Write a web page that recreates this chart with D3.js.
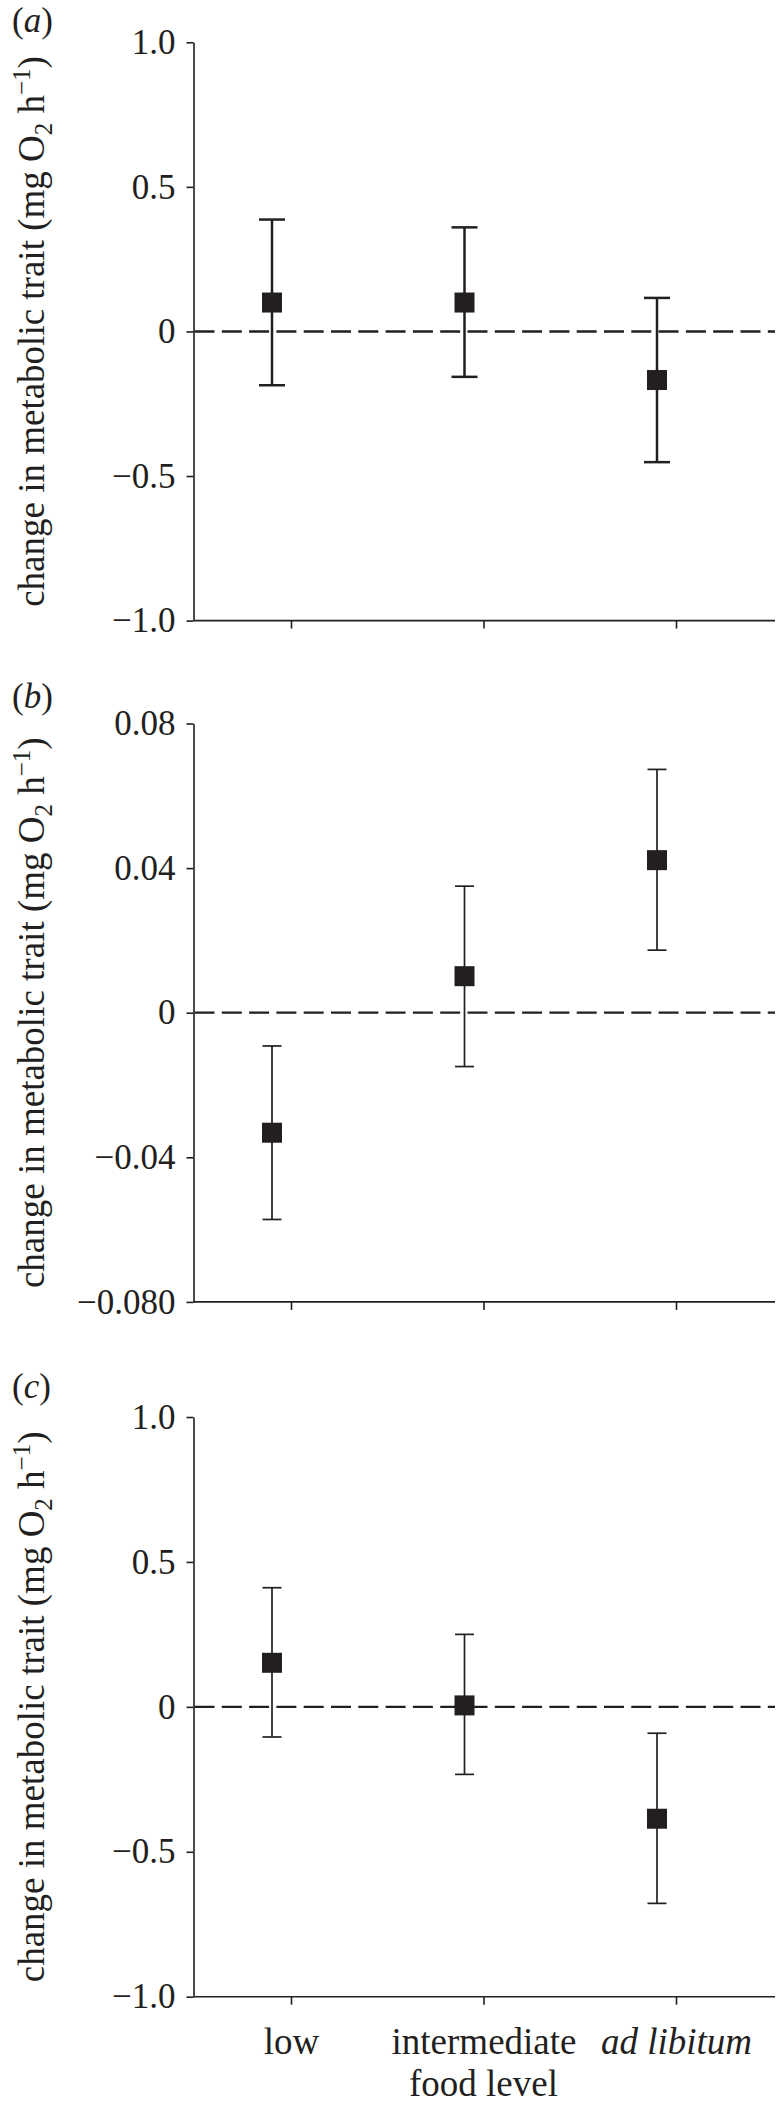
<!DOCTYPE html>
<html>
<head>
<meta charset="utf-8">
<script src="https://cdn.jsdelivr.net/npm/d3@7"></script>
<style>
  html, body { margin: 0; padding: 0; background: #fff; }
  svg { display: block; }
  svg text { font-family: "Liberation Serif", Tinos, "Times New Roman", "Nimbus Roman", "DejaVu Serif", serif; fill: #231f20; }
</style>
</head>
<body>
<svg id="chart" width="778" height="2105"></svg>
<script>
// ---- data ----
const categories = ["low", "intermediate", "ad libitum"];

const meanA  = [0.100, 0.100, -0.168];
const upperA = [0.387, 0.360, 0.116];
const lowerA = [-0.186, -0.157, -0.452];

const meanB  = [-0.0332, 0.0101, 0.0422];
const upperB = [-0.0092, 0.0350, 0.0673];
const lowerB = [-0.0572, -0.0149, 0.0173];

const meanC  = [0.152, 0.005, -0.386];
const upperC = [0.411, 0.250, -0.091];
const lowerC = [-0.104, -0.233, -0.678];

const ticksAC = [-1.0, -0.5, 0, 0.5, 1.0];
const tickLabelsAC = ["\u22121.0", "\u22120.5", "0", "0.5", "1.0"];
const ticksB = [-0.08, -0.04, 0, 0.04, 0.08];
const tickLabelsB = ["\u22120.080", "\u22120.04", "0", "0.04", "0.08"];

const panelLabels = ["a", "b", "c"];
const yLabelMain = "change in metabolic trait (mg O";
const xTitle = "food level";

// ---- layout ----
const FONT = '"Liberation Serif", Tinos, "Times New Roman", "Nimbus Roman", "DejaVu Serif", serif';
const ink = "#231f20";
const svg = d3.select("#chart");
const axisX = 193.5, axisRight = 775;
const x = d3.scalePoint().domain(categories).range([291, 676]);
const markerOffset = -19;

const panels = [
  {mean: meanA, up: upperA, lo: lowerA, dom: [-1, 1], ticks: ticksAC, tl: tickLabelsAC,
   top: 42.3, bottom: 620.6, cap: 26, sw: 2.5, dashW: 2.4, labelY: 32},
  {mean: meanB, up: upperB, lo: lowerB, dom: [-0.08, 0.08], ticks: ticksB, tl: tickLabelsB,
   top: 723.5, bottom: 1301.9, cap: 19, sw: 1.7, dashW: 2.2, labelY: 708},
  {mean: meanC, up: upperC, lo: lowerC, dom: [-1, 1], ticks: ticksAC, tl: tickLabelsAC,
   top: 1417, bottom: 1996.7, cap: 19, sw: 1.7, dashW: 2.2, labelY: 1398}
];

panels.forEach((p, pi) => {
  const y = d3.scaleLinear().domain(p.dom).range([p.bottom, p.top]);
  const g = svg.append("g").attr("font-family", FONT);

  // y axis
  const yAxis = d3.axisLeft(y).tickValues(p.ticks).tickFormat((d, i) => p.tl[i])
    .tickSize(7).tickSizeOuter(0).tickPadding(11);
  const ya = g.append("g").attr("transform", `translate(${axisX},0)`).call(yAxis)
    .attr("font-family", FONT);
  ya.select(".domain").attr("stroke", ink).attr("stroke-width", 1.6);
  ya.selectAll(".tick line").attr("stroke", ink).attr("stroke-width", 1.6);
  ya.selectAll(".tick text").attr("font-size", 35).attr("fill", ink);

  // x axis
  const xAxis = d3.axisBottom(x).tickSize(8).tickSizeOuter(0).tickFormat(pi === 2 ? (d => d) : "");
  const xa = g.append("g").attr("transform", `translate(0,${p.bottom})`).call(xAxis)
    .attr("font-family", FONT);
  xa.select(".domain").remove();
  xa.append("line").attr("x1", axisX).attr("x2", axisRight).attr("y1", 0).attr("y2", 0)
    .attr("stroke", ink).attr("stroke-width", 1.6);
  xa.selectAll(".tick line").attr("stroke", ink).attr("stroke-width", 1.6);
  xa.selectAll(".tick text").attr("font-size", 37).attr("fill", ink).attr("y", 57).attr("dy", 0)
    .style("font-style", d => d === "ad libitum" ? "italic" : "normal");

  // zero dashed line
  g.append("line").attr("x1", axisX + 1).attr("x2", axisRight).attr("y1", y(0)).attr("y2", y(0))
    .attr("stroke", ink).attr("stroke-width", p.dashW).attr("stroke-dasharray", "20,7.3");

  // error bars
  const eb = g.selectAll(".eb").data(categories).enter().append("g")
    .attr("transform", d => `translate(${x(d) + markerOffset},0)`);
  eb.append("line").attr("x1", 0).attr("x2", 0)
    .attr("y1", (d, i) => y(p.up[i])).attr("y2", (d, i) => y(p.lo[i]))
    .attr("stroke", ink).attr("stroke-width", p.sw);
  eb.append("line").attr("x1", -p.cap / 2).attr("x2", p.cap / 2)
    .attr("y1", (d, i) => y(p.up[i])).attr("y2", (d, i) => y(p.up[i]))
    .attr("stroke", ink).attr("stroke-width", p.sw);
  eb.append("line").attr("x1", -p.cap / 2).attr("x2", p.cap / 2)
    .attr("y1", (d, i) => y(p.lo[i])).attr("y2", (d, i) => y(p.lo[i]))
    .attr("stroke", ink).attr("stroke-width", p.sw);
  eb.append("rect").attr("x", -10).attr("width", 20).attr("height", 20)
    .attr("y", (d, i) => y(p.mean[i]) - 10).attr("fill", ink);

  // y label
  const cy = (p.top + p.bottom) / 2;
  const yl = g.append("text").attr("transform", `translate(44,${cy}) rotate(-90)`)
    .attr("text-anchor", "middle").attr("font-size", 37);
  yl.append("tspan").text(yLabelMain);
  yl.append("tspan").attr("font-size", 25).attr("dy", 8).text("2");
  yl.append("tspan").attr("dy", -8).text(" h");
  yl.append("tspan").attr("font-size", 25).attr("dy", -14).text("\u22121");
  yl.append("tspan").attr("dy", 14).text(")");

  // panel label
  const pl = g.append("text").attr("x", 12).attr("y", p.labelY).attr("font-size", 35);
  pl.append("tspan").text("(");
  pl.append("tspan").style("font-style", "italic").text(panelLabels[pi]);
  pl.append("tspan").text(")");
});

// x title
svg.append("text").attr("x", x("intermediate")).attr("y", 2096).attr("text-anchor", "middle")
  .attr("font-family", FONT).attr("font-size", 37).text(xTitle);
</script>
</body>
</html>
